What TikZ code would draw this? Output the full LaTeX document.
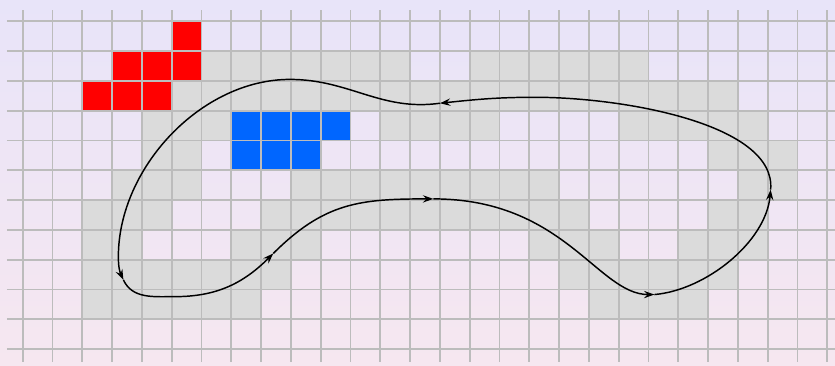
\documentclass[tikz,border=0pt]{standalone}
\usetikzlibrary{arrows.meta}
\definecolor{PathGray}{RGB}{219,219,219}
\definecolor{GridGray}{RGB}{188,188,188}
\definecolor{CellRed}{RGB}{255,0,0}
\definecolor{CellBlue}{RGB}{0,102,255}
\definecolor{BgTop}{RGB}{232,228,249}
\definecolor{BgBottom}{RGB}{246,231,240}

\begin{document}
\begin{tikzpicture}[
    gridline/.style={GridGray, line width=1.6pt},
    loopline/.style={line width=1.4pt, -{Stealth[length=10pt,width=7pt,inset=3.5pt]}}
]
    % Background
    \useasboundingbox (-0.762,-0.567) rectangle (27.26,11.715);
    \shade[top color=BgTop, bottom color=BgBottom] (-0.762,-0.567) rectangle (27.26,11.715);

    % Gray cells: row/first col/last col, row 0 on top
    \foreach \r/\a/\b in {1/6/12, 1/15/20, 2/5/23, 3/4/6, 3/12/15, 3/20/24,
                          4/4/5, 4/23/25, 5/3/5, 5/9/17, 5/24/25,
                          6/2/4, 6/8/18, 6/23/24, 7/2/3, 7/7/9, 7/17/19, 7/22/24,
                          8/2/8, 8/18/23, 9/2/7, 9/19/22}
        \fill[PathGray] (\a,10-\r) rectangle (\b+1,11-\r);

    % Red and blue blocks
    \foreach \r/\a/\b in {0/5/5, 1/3/5, 2/2/4}
        \fill[CellRed] (\a,10-\r) rectangle (\b+1,11-\r);
    \foreach \r/\a/\b in {3/7/10, 4/7/9}
        \fill[CellBlue] (\a,10-\r) rectangle (\b+1,11-\r);

    % Grid
    \foreach \k in {0,...,27}
        \draw[gridline] (\k,-0.43) -- (\k,11.38);
    \foreach \k in {0,...,11}
        \draw[gridline] (-0.53,\k) -- (27.26,\k);

    % Loop points
    \coordinate (a1) at (14.0,8.25);
    \coordinate (pk) at (8.97,9.05);
    \coordinate (c3) at (3.21,3.10);
    \coordinate (a2) at (3.38,2.32);
    \coordinate (b1) at (5.11,1.76);
    \coordinate (a3) at (8.41,3.21);
    \coordinate (a4) at (13.78,5.04);
    \coordinate (a5) at (21.2,1.83);
    \coordinate (a6) at (25.10,5.35);
    \coordinate (m7) at (17.19,8.45);

    % Closed loop, one arrow per piece
    \draw[loopline] (a1) to[out=188,in=0] (pk)
        to[out=180,in=90,looseness=0.92] (c3) to[out=270,in=115] (a2);
    \draw[loopline] (a2) to[out=295,in=180] (b1) to[out=0,in=225] (a3);
    \draw[loopline] (a3) to[out=45,in=180,looseness=1.1] (a4);
    \draw[loopline] (a4) .. controls +(0:4.4) and +(180:1.9) .. (a5);
    \draw[loopline] (a5) .. controls +(5:1.75) and +(265:1.75) .. (a6);
    \draw[loopline] (a6) .. controls +(85:2.2) and +(0:3) .. (m7)
        to[out=180,in=6] (a1);
\end{tikzpicture}
\end{document}
